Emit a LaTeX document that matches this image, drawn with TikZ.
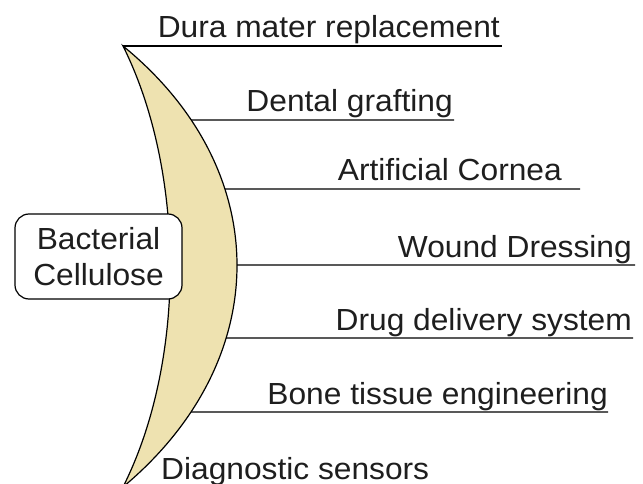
\documentclass[tikz,border=0pt]{standalone}
\usepackage{fontspec}
\setmainfont[FakeStretch=1.04]{Liberation Sans}
\usetikzlibrary{intersections}
\definecolor{bcfill}{HTML}{EEE2B0}
\definecolor{txt}{HTML}{1E1E1E}
\begin{document}
\begin{tikzpicture}[x=1pt,y=-1pt,
  lbl/.style={anchor=base east, inner sep=0pt, text=txt, font=\fontsize{30.5}{36}\selectfont},
  rule/.style={line width=1.2pt, draw=black},
  bcbox/.style={draw=black, line width=1.2pt, rounded corners=14pt, fill=white,
    minimum width=167pt, minimum height=85pt, align=center, inner sep=0pt,
    text=txt, font=\fontsize{30.5}{36}\selectfont}]
\useasboundingbox (0,0) rectangle (643,484);
\coordinate (top) at (123,46);
\coordinate (bot) at (123,487);
\path[name path=outer] (top) .. controls (275,170) and (275,360) .. (bot);
\filldraw[fill=bcfill, draw=black, line width=1.2pt]
  (top) .. controls (275,170) and (275,360) .. (bot)
  .. controls (187,360) and (185,170) .. (top) -- cycle;
% horizontal probes
\foreach \n/\yy in {2/120,3/189,4/265,5/338,6/412}{
  \path[name path=h\n] (0,\yy) -- (643,\yy);
  \path[name intersections={of=outer and h\n, by={s\n}}];
}
\coordinate (e1) at (502,46);
\coordinate (e2) at (454,120);
\coordinate (e3) at (580,189);
\coordinate (e4) at (635,265);
\coordinate (e5) at (633,338);
\coordinate (e6) at (608,412);
\draw[rule] (top) -- (e1);
\draw[rule] (s2) -- (e2);
\draw[rule] (s3) -- (e3);
\draw[rule] (s4) -- (e4);
\draw[rule] (s5) -- (e5);
\draw[rule] (s6) -- (e6);
\node[lbl] (t1) at (500,38) {Dura mater replacement};
\node[lbl] (t2) at (453,112) {Dental grafting};
\node[lbl] (t3) at (562,181) {Artificial Cornea};
\node[lbl] (t4) at (632,257) {Wound Dressing};
\node[lbl] (t5) at (632,330) {Drug delivery system};
\node[lbl] (t6) at (608,404) {Bone tissue engineering};
\node[lbl, anchor=base west] (t7) at (161,479) {Diagnostic sensors};
\node[bcbox] (bc) at (98.5,256.5) {Bacterial\\Cellulose};
\end{tikzpicture}
\end{document}
